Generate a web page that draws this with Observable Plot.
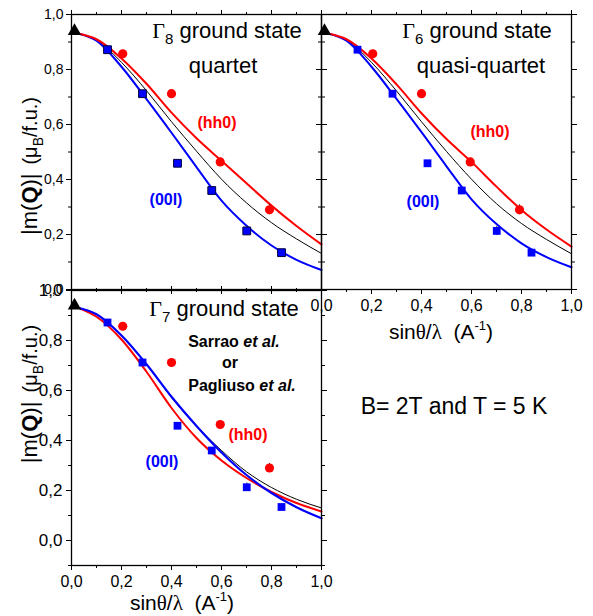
<!DOCTYPE html>
<html><head><meta charset="utf-8">
<script src="https://cdn.jsdelivr.net/npm/d3@7"></script>
<script src="https://cdn.jsdelivr.net/npm/@observablehq/plot@0.6"></script>
<style>
body{margin:0;background:#fff;}
#wrap{position:relative;width:593px;height:616px;font-family:"Liberation Sans",Arial,sans-serif;overflow:hidden;background:#fff;}
#wrap > svg{position:absolute;}
.lbl{position:absolute;white-space:nowrap;color:#000;transform:translate(-50%,-50%);line-height:1;}
.serif{font-family:"Liberation Serif","Times New Roman",serif;}
.red{color:#ff0000;font-weight:bold;}
.blue{color:#0000ff;font-weight:bold;}
</style></head><body><div id="wrap"></div>
<script>
// ---------- data ----------
// x positions of the model curves (sinθ/λ)
const curveX = [0.03, 0.1, 0.2, 0.3, 0.4, 0.5, 0.6, 0.7, 0.8, 0.9, 1.0];
// Γ8 ground state (quartet)
const g8Red   = [0.93, 0.91, 0.84, 0.748, 0.643, 0.55, 0.468, 0.386, 0.305, 0.231, 0.164];
const g8Black = [0.93, 0.907, 0.826, 0.723, 0.61, 0.503, 0.401, 0.315, 0.243, 0.184, 0.131];
const g8Blue  = [0.93, 0.905, 0.81, 0.692, 0.57, 0.445, 0.323, 0.232, 0.16, 0.108, 0.071];
// Γ6 ground state (quasi-quartet)
const g6Red   = [0.93, 0.91, 0.84, 0.746, 0.641, 0.547, 0.464, 0.374, 0.289, 0.218, 0.156];
const g6Black = [0.93, 0.907, 0.826, 0.722, 0.61, 0.502, 0.401, 0.312, 0.24, 0.182, 0.13];
const g6Blue  = [0.93, 0.905, 0.81, 0.693, 0.572, 0.448, 0.328, 0.238, 0.168, 0.118, 0.081];
// Γ7 ground state (Sarrao et al. / Pagliuso et al.)
const g7Red   = [0.93, 0.895, 0.804, 0.675, 0.53, 0.41, 0.32, 0.25, 0.194, 0.15, 0.116];
const g7Black = [0.93, 0.905, 0.82, 0.705, 0.572, 0.458, 0.36, 0.275, 0.212, 0.165, 0.13];
const g7Blue  = [0.93, 0.905, 0.82, 0.705, 0.575, 0.458, 0.352, 0.262, 0.19, 0.133, 0.089];
// measured (00l) points
const q00lX = [0.144, 0.284, 0.424, 0.561, 0.701, 0.84];
const q00lY = [0.872, 0.712, 0.459, 0.36, 0.213, 0.134];
const q00lErr = [0.005, 0.005, 0.008, 0.006, 0.017, 0.008];
// measured (hh0) points
const hh0X = [0.205, 0.40, 0.595, 0.792];
const hh0Y = [0.857, 0.712, 0.464, 0.29];
const hh0Err = [0.005, 0.005, 0.006, 0.018];
// forward point
const triX = [0.012];
const triY = [0.94];
// ticks
const xMajor = [0, 0.2, 0.4, 0.6, 0.8, 1.0];
const xMinor = [0.1, 0.3, 0.5, 0.7, 0.9];
const yMajor = [0, 0.2, 0.4, 0.6, 0.8, 1.0];
const yMinorTop = [0.1, 0.3, 0.5, 0.7, 0.9];
const yMinorBottom = [-0.1, 0.1, 0.3, 0.5, 0.7, 0.9];

const RED = "#ff0000", BLUE = "#0000ff";
const fmt = d => d.toFixed(1).replace(".", ",");
const blank = () => "";

function panel(cfg) {
  const rows = ys => curveX.map((x, i) => ({x, y: ys[i]}));
  const sq = q00lX.map((x, i) => ({x, y: q00lY[i], e: q00lErr[i]}));
  const ci = hh0X.map((x, i) => ({x, y: hh0Y[i], e: hh0Err[i]}));
  const tri = triX.map((x, i) => ({x, y: triY[i]}));
  const marks = [
    Plot.line(rows(cfg.black), {x: "x", y: "y", stroke: "black", strokeWidth: 1, curve: "monotone-x"}),
    ...(cfg.blueTop
      ? [Plot.line(rows(cfg.red), {x: "x", y: "y", stroke: RED, strokeWidth: 2, curve: "monotone-x"}),
         Plot.line(rows(cfg.blue), {x: "x", y: "y", stroke: BLUE, strokeWidth: 2.2, curve: "monotone-x"})]
      : [Plot.line(rows(cfg.blue), {x: "x", y: "y", stroke: BLUE, strokeWidth: 2, curve: "monotone-x"}),
         Plot.line(rows(cfg.red), {x: "x", y: "y", stroke: RED, strokeWidth: 2, curve: "monotone-x"})]),
    Plot.ruleX(sq, {x: "x", y1: d => d.y - d.e, y2: d => d.y + d.e, stroke: "#333", strokeWidth: 1}),
    Plot.ruleX(ci, {x: "x", y1: d => d.y - d.e, y2: d => d.y + d.e, stroke: "#333", strokeWidth: 1}),
    Plot.dot(sq, {x: "x", y: "y", symbol: "square", r: 4.4, fill: BLUE, stroke: cfg.sqStroke || "none", strokeWidth: 1}),
    Plot.dot(ci, {x: "x", y: "y", symbol: "circle", r: 4.6, fill: RED, stroke: "none"}),
    Plot.dot(tri, {x: "x", y: "y", symbol: "triangle", r: 5, fill: "black", stroke: "none"}),
    Plot.frame({stroke: "black", strokeWidth: 1.3}),
    Plot.axisY({ticks: yMajor, anchor: "left", tickSize: 5, tickPadding: cfg.yPad, tickFormat: cfg.yLabels ? fmt : blank, fontSize: cfg.yFont, label: null}),
    Plot.axisY({ticks: cfg.yMinor, anchor: "left", tickSize: 3, tickFormat: blank, label: null}),
    Plot.axisY({ticks: yMajor, anchor: "right", tickSize: 5, tickFormat: blank, label: null}),
    Plot.axisY({ticks: cfg.yMinor, anchor: "right", tickSize: 3, tickFormat: blank, label: null}),
    Plot.axisX({ticks: xMajor, anchor: "bottom", tickSize: 5, tickPadding: 5, tickFormat: cfg.xLabels ? fmt : blank, fontSize: 16, label: null}),
    Plot.axisX({ticks: xMinor, anchor: "bottom", tickSize: 3, tickFormat: blank, label: null}),
    Plot.axisX({ticks: xMajor, anchor: "top", tickSize: 5, tickFormat: blank, label: null}),
    Plot.axisX({ticks: xMinor, anchor: "top", tickSize: 3, tickFormat: blank, label: null})
  ];
  const svg = Plot.plot({
    width: cfg.width, height: cfg.height,
    marginLeft: cfg.ml, marginRight: cfg.mr, marginTop: cfg.mt, marginBottom: cfg.mb,
    x: {domain: [0, 1], label: null},
    y: {domain: cfg.yDomain, label: null},
    style: {fontFamily: "'Liberation Sans', Arial, sans-serif", fontSize: "14px", background: "transparent", overflow: "visible", color: "black"},
    marks
  });
  svg.style.left = cfg.left + "px";
  svg.style.top = cfg.top + "px";
  return svg;
}

const wrap = document.getElementById("wrap");
// bottom-left: Γ7
wrap.appendChild(panel({left: 0, top: 276, width: 330, height: 340, ml: 71, mr: 9, mt: 14, mb: 51,
  yDomain: [-0.1, 1.0], yMinor: yMinorBottom, yLabels: true, xLabels: true, yFont: 17, yPad: 4,
  red: g7Red, black: g7Black, blue: g7Blue, blueTop: true}));
// top-left: Γ8
wrap.appendChild(panel({left: 0, top: 0, width: 330, height: 300, ml: 71, mr: 9, mt: 14, mb: 11,
  yDomain: [0, 1.0], yMinor: yMinorTop, yLabels: true, xLabels: false, yFont: 14, yPad: 3,
  red: g8Red, black: g8Black, blue: g8Blue, sqStroke: "#000040"}));
// top-right: Γ6
wrap.appendChild(panel({left: 290, top: 0, width: 303, height: 330, ml: 31, mr: 22, mt: 14, mb: 41,
  yDomain: [0, 1.0], yMinor: yMinorTop, yLabels: false, xLabels: true, yFont: 14, yPad: 3,
  red: g6Red, black: g6Black, blue: g6Blue}));

function label(html, x, y, style) {
  const d = document.createElement("div");
  d.className = "lbl";
  d.innerHTML = html;
  d.style.left = x + "px";
  d.style.top = y + "px";
  Object.assign(d.style, style || {});
  wrap.appendChild(d);
  return d;
}
const gsub = n => `<span class="serif">&Gamma;</span><span style="font-size:15px;position:relative;top:6px">${n}</span> ground state`;
const ylab = `<span style="font-size:22px">|m(<b>Q</b>)|</span>&nbsp;&nbsp;<span style="font-size:20px">(&mu;<span style="font-size:14px;position:relative;top:6px">B</span>/f.u.)</span>`;
const xlab = `sin<span class="serif">&theta;</span>/<span class="serif">&lambda;</span>&nbsp;&nbsp;(A<span style="font-size:13px;position:relative;top:-9px">-1</span>)`;

// top-left texts
label(gsub(8), 227, 31, {fontSize: "22px"});
label("quartet", 223, 66, {fontSize: "22px"});
label("(hh0)", 217, 123, {fontSize: "16px"}).classList.add("red");
label("(00l)", 166, 200, {fontSize: "16px"}).classList.add("blue");
// top-right texts
label(gsub(6), 477, 31, {fontSize: "22px"});
label("quasi-quartet", 481, 66, {fontSize: "22px"});
label("(hh0)", 490, 132, {fontSize: "16px"}).classList.add("red");
label("(00l)", 423, 202, {fontSize: "16px"}).classList.add("blue");
label(xlab, 441, 332, {fontSize: "21px"});
// bottom texts
label(gsub(7), 224, 309, {fontSize: "22px"});
label("Sarrao <i>et al.</i>", 234, 342, {fontSize: "16px", fontWeight: "bold"});
label("or", 230, 363, {fontSize: "16px", fontWeight: "bold"});
label("Pagliuso <i>et al.</i>", 242, 386, {fontSize: "16px", fontWeight: "bold"});
label("(hh0)", 248, 435, {fontSize: "16px"}).classList.add("red");
label("(00l)", 162, 462, {fontSize: "16px"}).classList.add("blue");
label(xlab, 182, 603, {fontSize: "21px"});
// y labels
label(ylab, 30, 166, {transform: "translate(-50%,-50%) rotate(-90deg)"});
label(ylab, 30, 394, {transform: "translate(-50%,-50%) rotate(-90deg)", fontSize: "1.04em"});
// conditions
label("B= 2T and T = 5 K", 454, 406, {fontSize: "23px"});
</script>
</body></html>
